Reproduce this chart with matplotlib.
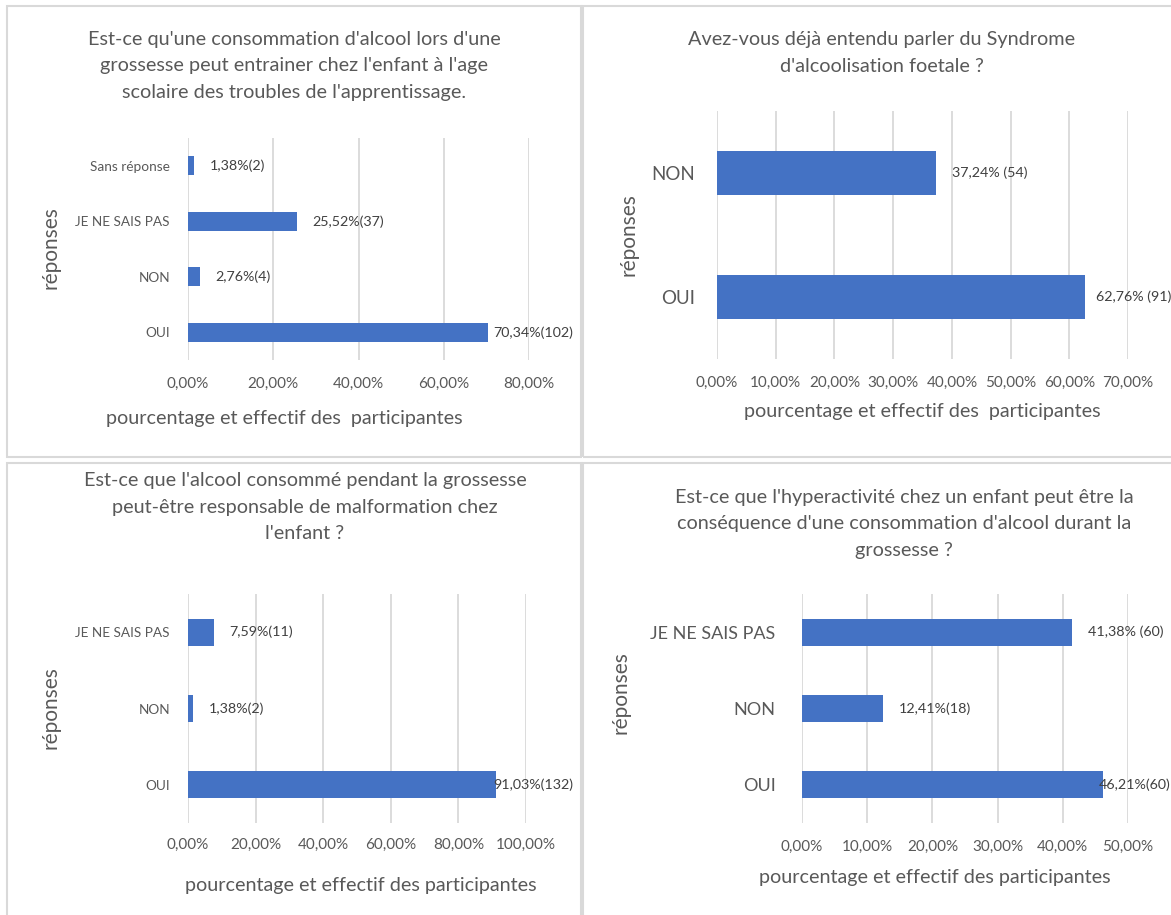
import matplotlib.pyplot as plt
from matplotlib.patches import Rectangle

plt.rcParams['font.family'] = ['Lato', 'DejaVu Sans']

W, H = 1171, 915
BLUE = '#4472C4'
TXT = '#595959'
GRID = '#D9D9D9'

# panel 1
p1_cats = ['OUI', 'NON', 'JE NE SAIS PAS', 'Sans réponse']
p1_vals = [70.34, 2.76, 25.52, 1.38]
p1_labels = ['70,34%(102)', '2,76%(4)', '25,52%(37)', '1,38%(2)']
p1_ticks = [0, 20, 40, 60, 80]

# panel 2
p2_cats = ['OUI', 'NON']
p2_vals = [62.76, 37.24]
p2_labels = ['62,76% (91)', '37,24% (54)']
p2_ticks = [0, 10, 20, 30, 40, 50, 60, 70]

# panel 3
p3_cats = ['OUI', 'NON', 'JE NE SAIS PAS']
p3_vals = [91.03, 1.38, 7.59]
p3_labels = ['91,03%(132)', '1,38%(2)', '7,59%(11)']
p3_ticks = [0, 20, 40, 60, 80, 100]

# panel 4
p4_cats = ['OUI', 'NON', 'JE NE SAIS PAS']
p4_vals = [46.21, 12.41, 41.38]
p4_labels = ['46,21%(60)', '12,41%(18)', '41,38% (60)']
p4_ticks = [0, 10, 20, 30, 40, 50]

titles = [
    "Est-ce qu'une consommation d'alcool lors d'une\ngrossesse peut entrainer chez l'enfant à l'age\nscolaire des troubles de l'apprentissage.",
    "Avez-vous déjà entendu parler du Syndrome\nd'alcoolisation foetale ?",
    "Est-ce que l'alcool consommé pendant la grossesse\npeut-être responsable de malformation chez\nl'enfant ?",
    "Est-ce que l'hyperactivité chez un enfant peut être la\nconséquence d'une consommation d'alcool durant la\ngrossesse ?",
]
xlabels = [
    'pourcentage et effectif des  participantes',
    'pourcentage et effectif des  participantes',
    'pourcentage et effectif des participantes',
    'pourcentage et effectif des participantes',
]


def fx(x):
    return x / W


def fy(y):
    return 1 - y / H


fig = plt.figure(figsize=(W / 100, H / 100), dpi=100)

# panel frames
for (x0, y0, x1, y1) in [(7, 6, 581, 457), (583, 6, 1180, 457),
                         (7, 463, 581, 925), (583, 463, 1180, 925)]:
    fig.patches.append(Rectangle((fx(x0), fy(y1)), fx(x1 - x0), (y1 - y0) / H,
                                 transform=fig.transFigure, fill=False,
                                 edgecolor=GRID, lw=1.5))


def panel(box, cats, vals, labels, ticks, xmax, ylab_size, ypad, xpad, gap, last_gap):
    l, r, t, b = box
    ax = fig.add_axes([fx(l), fy(b), fx(r - l), (b - t) / H])
    y = range(len(cats))
    ax.barh(y, vals, height=0.35, color=BLUE, zorder=3)
    ax.set_xlim(0, xmax)
    ax.set_ylim(-0.5, len(cats) - 0.5)
    ax.set_xticks(ticks)
    ax.set_xticklabels([f'{v:.2f}%'.replace('.', ',') for v in ticks])
    ax.set_yticks(list(y))
    ax.set_yticklabels(cats)
    ax.grid(axis='x', color=GRID, lw=1.3, zorder=0)
    for s in ax.spines.values():
        s.set_visible(False)
    ax.tick_params(axis='both', length=0, colors=TXT)
    ax.tick_params(axis='x', labelsize=11, pad=xpad)
    ax.tick_params(axis='y', labelsize=ylab_size, pad=ypad)
    vmax = max(vals)
    for i, (v, s) in enumerate(zip(vals, labels)):
        g = last_gap if v == vmax else gap
        ax.annotate(s, (v, i), xytext=(g, 0), textcoords='offset pixels',
                    va='center', ha='left', fontsize=10.3, color='#404040',
                    annotation_clip=False)
    return ax


panel((188, 529, 138, 360), p1_cats, p1_vals, p1_labels, p1_ticks, 80, 9.8, 13, 12, 16, 5)
panel((717, 1128, 111, 359), p2_cats, p2_vals, p2_labels, p2_ticks, 70, 13.5, 16, 12, 16, 11)
panel((188, 526, 594, 823), p3_cats, p3_vals, p3_labels, p3_ticks, 100, 9.8, 13, 11, 16, -2)
panel((802, 1128, 594, 823), p4_cats, p4_vals, p4_labels, p4_ticks, 50, 13, 19, 12, 16, -4)

# titles
for (x, y), s in zip([(294, 66), (882, 53), (305, 507), (904, 524)], titles):
    fig.text(fx(x), fy(y), s, ha='center', va='center', fontsize=14.3,
             color=TXT, linespacing=1.65)

# axis labels
for (x, y), s in zip([(284, 419), (922, 412), (361, 885), (935, 878)], xlabels):
    fig.text(fx(x), fy(y), s, ha='center', va='center', fontsize=14.2, color=TXT)

for (x, y) in [(51, 248), (629, 235), (51, 708), (620, 693)]:
    fig.text(fx(x), fy(y), 'réponses', ha='center', va='center', rotation=90,
             fontsize=15, color=TXT)

fig.savefig('out.png', dpi=100)
